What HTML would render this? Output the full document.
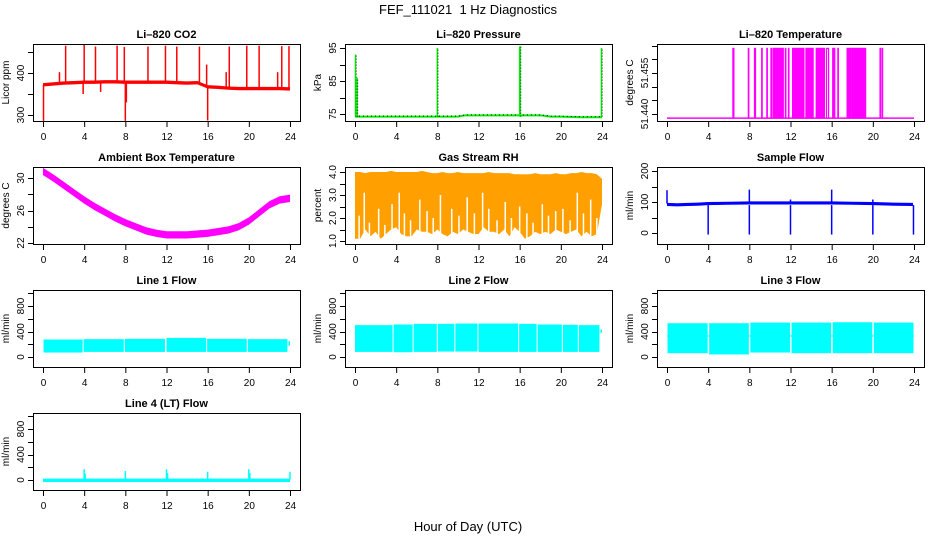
<!DOCTYPE html>
<html><head><meta charset="utf-8"><style>
html,body{margin:0;padding:0;background:#fff}
svg{display:block;font-family:"Liberation Sans",sans-serif}
</style></head><body>
<svg id="c" width="936" height="540" xmlns="http://www.w3.org/2000/svg">
<text x="468" y="14" font-size="13" text-anchor="middle">FEF_111021 &#160;1 Hz Diagnostics</text>
<text x="468" y="531" font-size="13" text-anchor="middle">Hour of Day (UTC)</text>
</svg>
<script>
// ---- data ----
const xTicks=[0,4,8,12,16,20,24];
const co2Hours=[0,1,2,3,4,5,6,7,8,9,10,11,12,13,14,15,16,17,18,19,20,21,22,23,24];
const co2Base=[372,374,376,377,378,378,379,379,378,378,378,378,378,377,376,377,367,366,364,363,363,363,363,363,362];
const co2SpikeHours=[0.05,1.6,2.2,3.9,4.0,5.1,5.6,7.2,7.9,8.0,8.1,10.2,11.9,13.0,15.2,15.9,16.0,17.8,18.1,19.8,21.0,22.8,23.2,23.9];
const co2SpikeVals=[286,402,465,350,467,463,355,465,462,286,330,463,465,463,463,420,287,402,463,465,465,402,464,464];
const pHours=[0,2,4,6,8,10,10.7,12,14,16,18,19,20,22,24];
const pBase=[74.2,74.2,74.2,74.2,74.2,74.2,74.6,74.6,74.6,74.6,74.6,74.2,74.2,74.0,74.0];
const pSpikeHours=[0.05,0.2,8.0,16.0,16.05,23.95];
const pSpikeVals=[93,86,95,95.5,95.5,95];
const tPulseStart=[6.4,7.9,8.5,9.2,9.7,10.1,10.3,10.6,11.5,11.8,12.2,13.5,14.5,15.5,16.1,16.6,17.5,18.0,19.0,20.7,20.9];
const tPulseEnd=[6.5,7.95,8.6,9.25,9.75,10.15,10.5,11.3,11.55,11.85,13.3,14.2,15.3,15.7,16.3,16.65,17.9,18.9,19.3,20.75,20.95];
const tDense=[0,0,0,0,0,0,1,1,0,0,1,1,1,0,1,0,1,1,1,0,0];
const tempLow=51.4385, tempHigh=51.464;
const ambHours=[0,1,2,3,4,5,6,7,8,9,10,11,12,13,14,15,16,17,18,19,20,21,22,23,24];
const ambVals=[30.8,30.0,29.1,28.2,27.3,26.5,25.8,25.1,24.5,24.0,23.5,23.2,23.0,23.0,23.0,23.1,23.2,23.4,23.6,24.0,24.7,25.7,26.7,27.3,27.5];
const rhHours=[0,0.5,1,1.5,2,2.5,3,3.5,4,4.5,5,5.5,6,6.5,7,7.5,8,8.5,9,9.5,10,10.5,11,11.5,12,12.5,13,13.5,14,14.5,15,15.5,16,16.5,17,17.5,18,18.5,19,19.5,20,20.5,21,21.5,22,22.5,23,23.5,24];
const rhLow=[1.1,1.1,1.5,1.2,1.4,1.1,1.3,1.5,1.6,1.3,1.2,1.2,1.5,1.4,1.4,1.3,1.5,1.3,1.2,1.4,1.3,1.5,1.4,1.3,1.3,1.6,1.4,1.4,1.3,1.5,1.2,1.6,1.4,1.1,1.2,1.4,1.3,1.4,1.3,1.5,1.4,1.3,1.4,1.5,1.2,1.4,1.2,1.3,2.6];
const rhTop=[4.0,4.0,3.95,4.0,4.0,4.0,4.0,4.05,4.0,4.0,4.0,4.0,4.0,4.05,4.0,3.95,3.95,4.0,3.95,3.95,4.0,3.95,3.95,3.95,3.95,3.95,4.0,3.95,3.95,3.95,3.95,3.9,3.9,3.9,3.9,3.95,3.9,3.9,3.9,3.95,3.9,3.9,3.95,3.95,4.0,3.95,3.95,3.9,3.7];
const rhNotchHours=[0.4,0.9,1.4,2.3,2.9,3.6,4.3,4.8,5.4,6.3,7.0,7.6,8.3,9.4,10.1,10.9,11.6,12.4,13.0,13.8,14.6,15.2,16.0,16.7,17.3,18.2,18.8,19.5,20.2,20.9,21.6,22.2,22.9,23.5];
const rhNotchVals=[2.1,3.1,1.8,2.4,1.7,2.6,3.1,2.2,1.9,2.8,2.3,2.0,3.0,2.4,2.1,2.9,2.2,3.1,2.4,1.9,2.7,2.0,2.5,2.2,1.8,2.6,2.1,2.3,2.4,1.9,3.1,2.2,2.8,2.0];
const sfHours=[0,1,2,3,4,6,8,10,12,14,16,18,20,22,23.9];
const sfBase=[92,91,92,93,95,96,97,97,97,97,97,96,95,93,92];
const sfDipHours=[4.0,8.0,12.0,16.0,20.0,23.95];
const sfDipVals=[-5,-5,-5,-5,-5,-5];
const sfSpikeHours=[0.0,8.0,12.0,16.0,20.0];
const sfSpikeVals=[138,140,108,140,108];
const l1Start=[0.05,3.95,7.95,12.0,15.95,19.9,23.85];
const l1End=[3.85,7.85,11.85,15.85,19.8,23.75,24.0];
const l1Lo=[70,80,80,80,80,80,180];
const l1Hi=[275,280,285,300,285,280,250];
const l2Start=[0.0,3.75,5.7,8.05,9.75,12.0,15.95,17.75,20.2,21.75,23.85];
const l2End=[3.65,5.6,7.95,9.65,11.9,15.85,17.65,20.1,21.65,23.75,24.0];
const l2Lo=[80,75,80,85,85,80,80,80,80,80,380];
const l2Hi=[500,510,520,520,525,525,520,510,505,500,430];
const l3Start=[0.05,4.1,8.1,12.1,16.1,20.1];
const l3End=[3.95,7.95,11.95,15.95,19.95,23.95];
const l3Lo=[60,40,70,60,60,60];
const l3Hi=[530,530,540,540,545,540];
const l4Hours=[4.0,4.1,8.0,12.0,12.1,16.0,20.0,20.1,24.0];
const l4Vals=[170,100,140,170,110,130,170,110,130];
const l4Base=10;

// ---- layout ----
const NS="http://www.w3.org/2000/svg";
const svg=document.getElementById('c');
const colL=[33,345,657], rowT=[44,167,290,413], W=267, H=77;
function el(tag,attrs,parent){const e=document.createElementNS(NS,tag);for(const k in attrs)e.setAttribute(k,attrs[k]);(parent||svg).appendChild(e);return e;}
let clipN=0;
function panel(name,title,ylab,col,row,yRef,yTicks,yLabels){
  const L=colL[col],T=rowT[row];
  const g=el('g',{});
  
  
  const x=h=>L+10+h*(W-20)/24;
  const [v1,p1,v2,p2]=yRef;
  const y=v=>T+p1+(v-v1)*(p2-p1)/(v2-v1);
  const box=el('rect',{x:L+0.5,y:T+0.5,width:W,height:H,fill:'none',stroke:'#000','stroke-width':1},g);
  
  
  const t=el('text',{x:L+W/2,y:T-6,'font-size':11,'font-weight':'bold','text-anchor':'middle'},g);
  t.textContent=title;
  
  
  const yl=el('text',{transform:`translate(${L-24},${T+H/2}) rotate(-90)`,'font-size':10,'text-anchor':'middle'},g);
  yl.textContent=ylab;
  
  
  xTicks.forEach(h=>{
    el('line',{x1:x(h)+0.5,x2:x(h)+0.5,y1:T+H,y2:T+H+6,stroke:'#000'},g);
    const tl=el('text',{x:x(h)+0.5,y:T+H+19,'font-size':10,'text-anchor':'middle'},g);
    tl.textContent=h;
    
    
  });
  yTicks.forEach(v=>{const yy=Math.round(y(v))+0.5;el('line',{x1:L-5,x2:L,y1:yy,y2:yy,stroke:'#000'},g);});
  yLabels.forEach(v=>{
    const yy=y(v[0]);
    const tl=el('text',{transform:`translate(${L-9},${yy}) rotate(-90)`,'font-size':10,'text-anchor':'middle'},g);
    tl.textContent=v[1];
    
    
  });
  const id='cp'+(clipN++);
  const cp=el('clipPath',{id},svg);
  el('rect',{x:L+1,y:T+1,width:W-1,height:H-1},cp);
  const d=el('g',{'clip-path':`url(#${id})`},g);
  
  
  return {x,y,g:d};
}
function band(p,hs,lo,hi,fill){
  let pts=hs.map((h,i)=>p.x(h)+','+p.y(hi[i]));
  for(let i=hs.length-1;i>=0;i--)pts.push(p.x(hs[i])+','+p.y(lo[i]));
  return el('polygon',{points:pts.join(' '),fill:fill},p.g);
}
function vline(p,h,v1,v2,color,w){return el('line',{x1:p.x(h),x2:p.x(h),y1:p.y(v1),y2:p.y(v2),stroke:color,'stroke-width':w||1.2},p.g);}

// CO2
(function(){
  const p=panel('co2','Li\u2013820 CO2','Licor ppm',0,0,[300,71,400,29],[300,350,400,450],[[300,'300'],[400,'400']]);
  const b=band(p,co2Hours,co2Base.map(v=>v-4),co2Base.map(v=>v+4),'#ff0000');
  
  co2SpikeHours.forEach((h,i)=>{const base=co2Base[Math.min(24,Math.round(h))];const l=vline(p,h,base,co2SpikeVals[i],'#ff0000',1.5);
    });
})();
// Pressure
(function(){
  const p=panel('pressure','Li\u2013820 Pressure','kPa',1,0,[75,70,95,4],[75,80,85,90,95],[[75,'75'],[85,'85'],[95,'95']]);
  const pl=el('polyline',{points:pHours.map((h,i)=>p.x(h)+','+p.y(pBase[i])).join(' '),fill:'none',stroke:'#00ee00','stroke-width':2},p.g);
  
  el('polyline',{points:pHours.map((h,i)=>p.x(h)+','+(p.y(pBase[i])-0.5)).join(' '),fill:'none',stroke:'#000','stroke-width':1,'stroke-dasharray':'1 3'},p.g);
  pSpikeHours.forEach((h,i)=>{const l=vline(p,h,74.2,pSpikeVals[i],'#00ee00',1.5);
    
    el('line',{x1:p.x(h)+0.7,x2:p.x(h)+0.7,y1:p.y(74.2),y2:p.y(pSpikeVals[i]),stroke:'#000','stroke-width':0.8,'stroke-dasharray':'1 2'},p.g);});
})();
// Li-820 temperature
(function(){
  const p=panel('li820-temp','Li\u2013820 Temperature','degrees C',2,0,[51.44,70,51.455,29],[51.44,51.445,51.45,51.455,51.46,51.465],[[51.44,'51.440'],[51.455,'51.455']]);
  const bl=el('line',{x1:p.x(0),x2:p.x(24),y1:p.y(tempLow),y2:p.y(tempLow),stroke:'#ff00ff','stroke-width':1.5},p.g);
  
  tPulseStart.forEach((s,i)=>{const e=tPulseEnd[i];
    const r=el('rect',{x:p.x(s),y:p.y(tempHigh),width:p.x(e)-p.x(s),height:p.y(tempLow)-p.y(tempHigh),fill:tDense[i]?'#ff00ff':'none',stroke:'#ff00ff','stroke-width':1.2},p.g);
    });
})();
// Ambient
(function(){
  const p=panel('ambient-temp','Ambient Box Temperature','degrees C',0,1,[22,76,30,11],[22,24,26,28,30],[[22,'22'],[26,'26'],[30,'30']]);
  const b=band(p,ambHours,ambVals.map(v=>v-0.45),ambVals.map(v=>v+0.45),'#ff00ff');
  
})();
// RH
(function(){
  const p=panel('gas-rh','Gas Stream RH','percent',1,1,[1,74,4,5],[1,1.5,2,2.5,3,3.5,4],[[1,'1.0'],[2,'2.0'],[3,'3.0'],[4,'4.0']]);
  const b=band(p,rhHours,rhLow,rhTop,'#ffa000');
  
  rhNotchHours.forEach((h,i)=>{const l=vline(p,h,1.0,rhNotchVals[i],'#fff',1.5);
    });
})();
// Sample flow
(function(){
  const p=panel('sample-flow','Sample Flow','ml/min',2,1,[0,66,200,4],[0,50,100,150,200],[[0,'0'],[100,'100'],[200,'200']]);
  const b=band(p,sfHours,sfBase.map(v=>v-5),sfBase.map(v=>v+5),'#0000ff');
  
  sfDipHours.forEach((h,i)=>{const l=vline(p,h,90,sfDipVals[i],'#0000ff',1.5);});
  sfSpikeHours.forEach((h,i)=>{const l=vline(p,h,95,sfSpikeVals[i],'#0000ff',1.5);});
})();
// Line flows
const flowY=[0,67,800,16], flowTicks=[0,200,400,600,800,1000], flowLabels=[[0,'0'],[400,'400'],[800,'800']];
function segs(p,st,en,lo,hi,nm){st.forEach((s,i)=>{const r=el('rect',{x:p.x(s),y:p.y(hi[i]),width:Math.max(1,p.x(en[i])-p.x(s)),height:p.y(lo[i])-p.y(hi[i]),fill:'#00ffff'},p.g);
  });}
(function(){const p=panel('line1-flow','Line 1 Flow','ml/min',0,2,flowY,flowTicks,flowLabels);segs(p,l1Start,l1End,l1Lo,l1Hi,'line1-flow-segment');})();
(function(){const p=panel('line2-flow','Line 2 Flow','ml/min',1,2,flowY,flowTicks,flowLabels);segs(p,l2Start,l2End,l2Lo,l2Hi,'line2-flow-segment');})();
(function(){const p=panel('line3-flow','Line 3 Flow','ml/min',2,2,flowY,flowTicks,flowLabels);
  el('line',{x1:p.x(0),x2:p.x(24),y1:p.y(330),y2:p.y(330),stroke:'#00ffff','stroke-width':1},p.g);
  segs(p,l3Start,l3End,l3Lo,l3Hi,'line3-flow-segment');})();
(function(){const p=panel('line4-flow','Line 4 (LT) Flow','ml/min',0,3,flowY,flowTicks,flowLabels);
  const bl=el('rect',{x:p.x(0),y:p.y(l4Base+12),width:p.x(24)-p.x(0),height:p.y(0)-p.y(l4Base+12)+2,fill:'#00ffff'},p.g);
  
  l4Hours.forEach((h,i)=>{const l=vline(p,h,l4Base,l4Vals[i],'#00ffff',1.5);});})();
</script>
</body></html>
